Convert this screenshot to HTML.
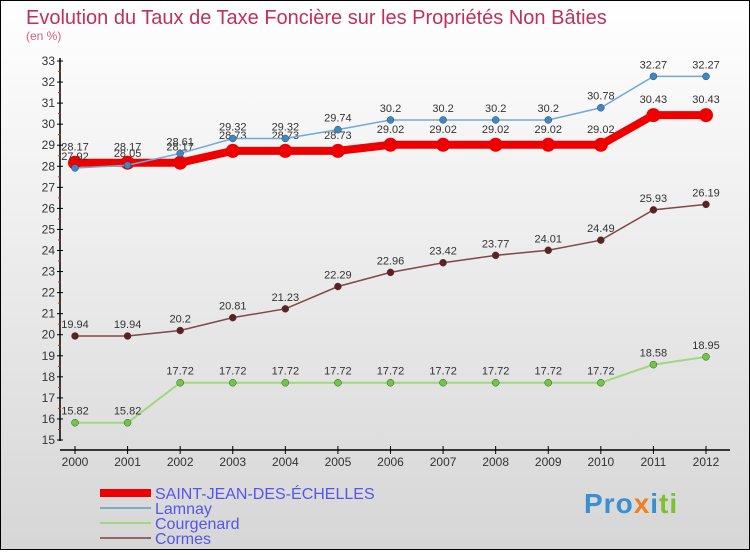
<!DOCTYPE html>
<html><head><meta charset="utf-8"><style>
body{margin:0}
#c{width:750px;height:550px;position:relative;font-family:"Liberation Sans",sans-serif}
</style></head><body>
<div id="c">
<svg id="s" width="750" height="550" xmlns="http://www.w3.org/2000/svg">
<defs><linearGradient id="bg" x1="0" y1="0" x2="0" y2="1"><stop offset="0" stop-color="#ffffff"/><stop offset="1" stop-color="#d6d6d6"/></linearGradient></defs>
<rect x="0.5" y="0.5" width="749" height="549" fill="url(#bg)" stroke="#000"/>
<text x="26" y="24" font-size="20" fill="#c0305a">Evolution du Taux de Taxe Foncière sur les Propriétés Non Bâties</text>
<text x="26" y="40" font-size="12" fill="#d06080">(en %)</text>
<g id="axes"></g><g id="series"></g><g id="legend"></g>
</svg>
<div style="position:absolute;left:584px;top:488px;font-size:28px;font-weight:bold;letter-spacing:1px"><span style="color:#3a8fd0">Pro</span><span style="color:#f08020">x</span><span style="color:#3a8fd0">i</span><span style="color:#80c030">ti</span></div>
</div>
<script>
const years=[2000,2001,2002,2003,2004,2005,2006,2007,2008,2009,2010,2011,2012];
const yTicks=[15,16,17,18,19,20,21,22,23,24,25,26,27,28,29,30,31,32,33];
const saint=[28.17,28.17,28.17,28.73,28.73,28.73,29.02,29.02,29.02,29.02,29.02,30.43,30.43];
const lamnay=[27.92,28.05,28.61,29.32,29.32,29.74,30.2,30.2,30.2,30.2,30.78,32.27,32.27];
const courgenard=[15.82,15.82,17.72,17.72,17.72,17.72,17.72,17.72,17.72,17.72,17.72,18.58,18.95];
const cormes=[19.94,19.94,20.2,20.81,21.23,22.29,22.96,23.42,23.77,24.01,24.49,25.93,26.19];
const NS="http://www.w3.org/2000/svg";
const X=i=>75+i*(706-75)/(years.length-1);
const Y=v=>440-(v-15)*(440-61)/18;
function mk(tag,attrs,parent){const e=document.createElementNS(NS,tag);for(const k in attrs)e.setAttribute(k,attrs[k]);parent.appendChild(e);return e;}
const ax=document.getElementById('axes');
let a=mk('line',{x1:60,y1:58,x2:60,y2:441,stroke:'#000','stroke-width':1.5},ax);


a=mk('line',{x1:60,y1:450,x2:730,y2:450,stroke:'#000','stroke-width':1.5},ax);


yTicks.forEach(v=>{
 mk('line',{x1:57,y1:Y(v),x2:63,y2:Y(v),stroke:'#000'},ax);
 if(v<33) mk('line',{x1:58,y1:Y(v+0.5),x2:61,y2:Y(v+0.5),stroke:'#e02020'},ax);
 const t=mk('text',{x:55,y:Y(v)+4,'font-size':12,fill:'#333','text-anchor':'end'},ax);t.textContent=v;
 
 
});
years.forEach((y,i)=>{
 mk('line',{x1:X(i),y1:446,x2:X(i),y2:454,stroke:'#000'},ax);
 const t=mk('text',{x:X(i),y:466,'font-size':12,fill:'#333','text-anchor':'middle'},ax);t.textContent=y;
 
 
});
const sg=document.getElementById('series');
function series(data,color,dot,w,r,name,labelDy){
 const g=mk('g',{},sg);
 
 
 mk('polyline',{points:data.map((v,i)=>X(i)+','+Y(v)).join(' '),fill:'none',stroke:color,'stroke-width':w},g);
 data.forEach((v,i)=>{
  const c=mk('circle',{cx:X(i),cy:Y(v),r:r,fill:dot,stroke:r>5?'none':'#444','stroke-width':0.5},g);
  
  
  const t=mk('text',{x:X(i),y:Y(v)+labelDy,'font-size':11,fill:'#333','text-anchor':'middle'},g);t.textContent=v;
  
  
 });
}
series(courgenard,'#a0d880','#70c840',2,3.5,'courgenard',-8);
series(cormes,'#804848','#602020',1.5,3.5,'cormes',-8);
series(saint,'#ee0000','#ee0000',8,7,'saint-jean',-12);
series(lamnay,'#70a8d8','#3a88c8',1.5,3.5,'lamnay',-8);
const lg=document.getElementById('legend');
[['SAINT-JEAN-DES-ÉCHELLES','#ee0000',8,493],['Lamnay','#80a8c8',2,508],['Courgenard','#a0d880',2,523],['Cormes','#906868',2,538]].forEach(([n,c,w,y])=>{
 const g=mk('g',{},lg);
 
 
 mk('line',{x1:100,y1:y,x2:151,y2:y,stroke:c,'stroke-width':w},g);
 const t=mk('text',{x:155,y:y+6,'font-size':16,fill:'#5555ee'},g);t.textContent=n;
});
</script>
</body></html>
